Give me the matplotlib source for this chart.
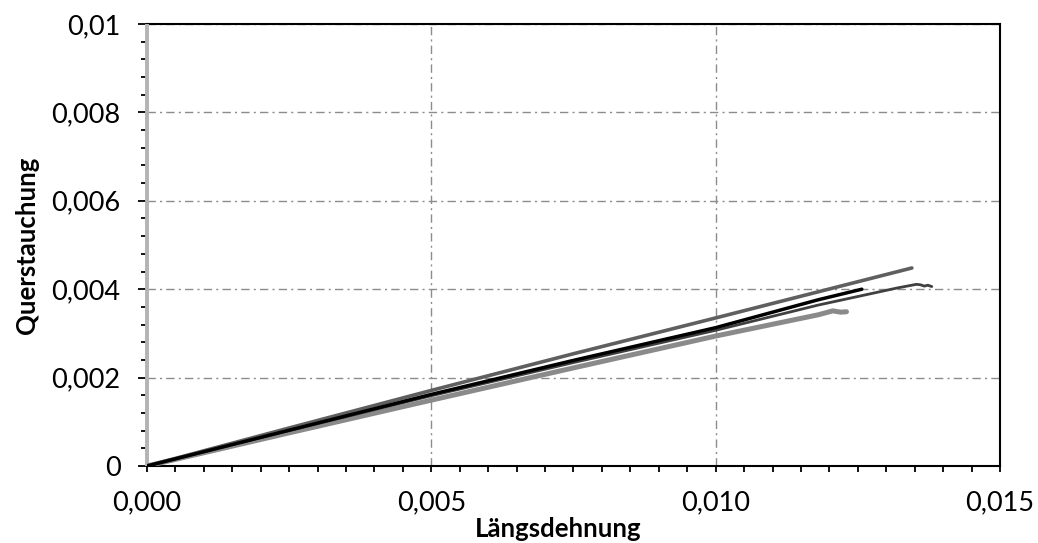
import matplotlib
matplotlib.use('Agg')
import matplotlib.pyplot as plt
from matplotlib.ticker import MultipleLocator, FixedLocator

# Messreihen: Längsdehnung (x) gegen Querstauchung (y)
probe_a_x = [0, 0.0025, 0.005, 0.0075, 0.010, 0.0118, 0.01345]
probe_a_y = [0, 0.00086, 0.00171, 0.00254, 0.00335, 0.00394, 0.00448]

probe_b_x = [0, 0.0025, 0.005, 0.0075, 0.010, 0.0118, 0.01257]
probe_b_y = [0, 0.00081, 0.00162, 0.00239, 0.00313, 0.00376, 0.00400]

probe_c_x = [0, 0.0025, 0.005, 0.0075, 0.010, 0.0118, 0.0132, 0.01353, 0.0136, 0.01367, 0.01373, 0.0138]
probe_c_y = [0, 0.00080, 0.00159, 0.00234, 0.00307, 0.00364, 0.00403, 0.00411, 0.00410, 0.00407, 0.00409, 0.00406]

probe_d_x = [0, 0.0025, 0.005, 0.0075, 0.010, 0.0118, 0.01206, 0.0122, 0.0123]
probe_d_y = [0, 0.00075, 0.00149, 0.00222, 0.00294, 0.00342, 0.00351, 0.00348, 0.00349]

# Nulllinie der Querdehnung (Messbeginn)
null_x = [0, 0]
null_y = [0, 0.01]

x_ticks = [0, 0.005, 0.010, 0.015]
x_labels = ['0,000', '0,005', '0,010', '0,015']
y_ticks = [0, 0.002, 0.004, 0.006, 0.008, 0.010]
y_labels = ['0', '0,002', '0,004', '0,006', '0,008', '0,01']

plt.rcParams['font.family'] = ['Lato', 'DejaVu Sans']

fig = plt.figure(figsize=(10.38, 5.43), dpi=100)
ax = fig.add_axes([0.1416, 0.1418, 0.8218, 0.814])

ax.plot(null_x, null_y, color='#b4b4b4', lw=2.8, solid_capstyle='butt',
        clip_on=False, zorder=3)
ax.plot(probe_d_x, probe_d_y, color='#8a8a8a', lw=3.6, solid_capstyle='round', zorder=4)
ax.plot(probe_c_x, probe_c_y, color='#404040', lw=2.0, solid_capstyle='round', zorder=5)
ax.plot(probe_b_x, probe_b_y, color='#000000', lw=2.5, solid_capstyle='round', zorder=6)
ax.plot(probe_a_x, probe_a_y, color='#5f5f5f', lw=2.6, solid_capstyle='round', zorder=5)

ax.set_xlim(0, 0.015)
ax.set_ylim(0, 0.010)

ax.xaxis.set_major_locator(FixedLocator(x_ticks))
ax.set_xticklabels(x_labels)
ax.xaxis.set_minor_locator(MultipleLocator(0.0005))
ax.yaxis.set_major_locator(FixedLocator(y_ticks))
ax.set_yticklabels(y_labels)
ax.yaxis.set_minor_locator(MultipleLocator(0.0004))

ax.tick_params(axis='both', which='both', direction='out', color='black',
               width=1.3, labelsize=19.5)
ax.tick_params(axis='y', which='major', length=6.5, pad=12.5)
ax.tick_params(axis='y', which='minor', length=4.5)
ax.tick_params(axis='x', which='both', length=4.5, pad=13)

for side in ['top', 'right', 'bottom', 'left']:
    ax.spines[side].set_color('black')
    ax.spines[side].set_linewidth(1.5)

ax.grid(True, which='major', color='#8c8c8c', lw=1.0,
        linestyle=(0, (6, 3, 1.5, 3)))
ax.set_axisbelow(True)

ax.set_xlabel('Längsdehnung', fontsize=18.5, fontweight='bold')
ax.xaxis.set_label_coords(0.482, -0.115)
ax.set_ylabel('Querstauchung', fontsize=18.5, fontweight='bold')
ax.yaxis.set_label_coords(-0.126, 0.5)

fig.savefig('out.png', dpi=100)
